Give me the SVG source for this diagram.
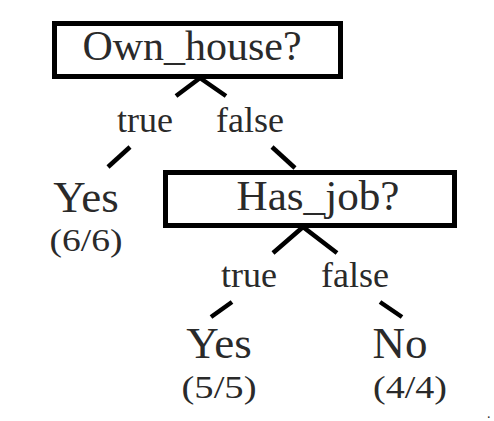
<svg xmlns="http://www.w3.org/2000/svg" width="494" height="421" viewBox="0 0 494 421">
<style>
.box{fill:#fff;stroke:#000;stroke-width:5}
.t{font-family:"Liberation Serif","Times New Roman",serif;fill:#2a2a2a;text-anchor:middle}
.edge{stroke:#000;stroke-width:4.5;fill:none;stroke-linecap:butt}
</style>
<rect width="494" height="421" fill="#fff"/>
<g id="connectors">
<path class="edge" d="M176,96 L200,78 L226,96"/>
<path class="edge" d="M130,147 L108,167"/>
<path class="edge" d="M272,147 L295,168"/>
<path class="edge" d="M273,253 L303,227 L337,253"/>
<path class="edge" d="M232,302 L211,317"/>
<path class="edge" d="M380,302 L402,317"/>
</g>
<g id="node-own-house">
<rect class="box" x="54.5" y="23.5" width="286" height="53"/>
<text class="t" x="192" y="60" font-size="42" textLength="219" lengthAdjust="spacingAndGlyphs">Own_house?</text>
</g>
<g id="label-true-1"><text class="t" x="145" y="132" font-size="36">true</text></g>
<g id="label-false-1"><text class="t" x="250" y="132" font-size="36">false</text></g>
<g id="node-yes-1">
<text class="t" x="86" y="212" font-size="45">Yes</text>
<text class="t" x="86" y="251" font-size="32" textLength="73" lengthAdjust="spacingAndGlyphs">(6/6)</text>
</g>
<g id="node-has-job">
<rect class="box" x="165.5" y="172.5" width="289" height="53"/>
<text class="t" x="318" y="210" font-size="42" textLength="163" lengthAdjust="spacingAndGlyphs">Has_job?</text>
</g>
<g id="label-true-2"><text class="t" x="249" y="287" font-size="36">true</text></g>
<g id="label-false-2"><text class="t" x="355" y="287" font-size="36">false</text></g>
<g id="node-yes-2">
<text class="t" x="219" y="358" font-size="45">Yes</text>
<text class="t" x="219" y="398" font-size="32" textLength="75" lengthAdjust="spacingAndGlyphs">(5/5)</text>
</g>
<g id="node-no">
<text class="t" x="400" y="358" font-size="45">No</text>
<text class="t" x="410" y="398" font-size="32" textLength="74" lengthAdjust="spacingAndGlyphs">(4/4)</text>
</g>
<text class="t" x="487" y="418" font-size="14" style="text-anchor:start">.</text>
</svg>
